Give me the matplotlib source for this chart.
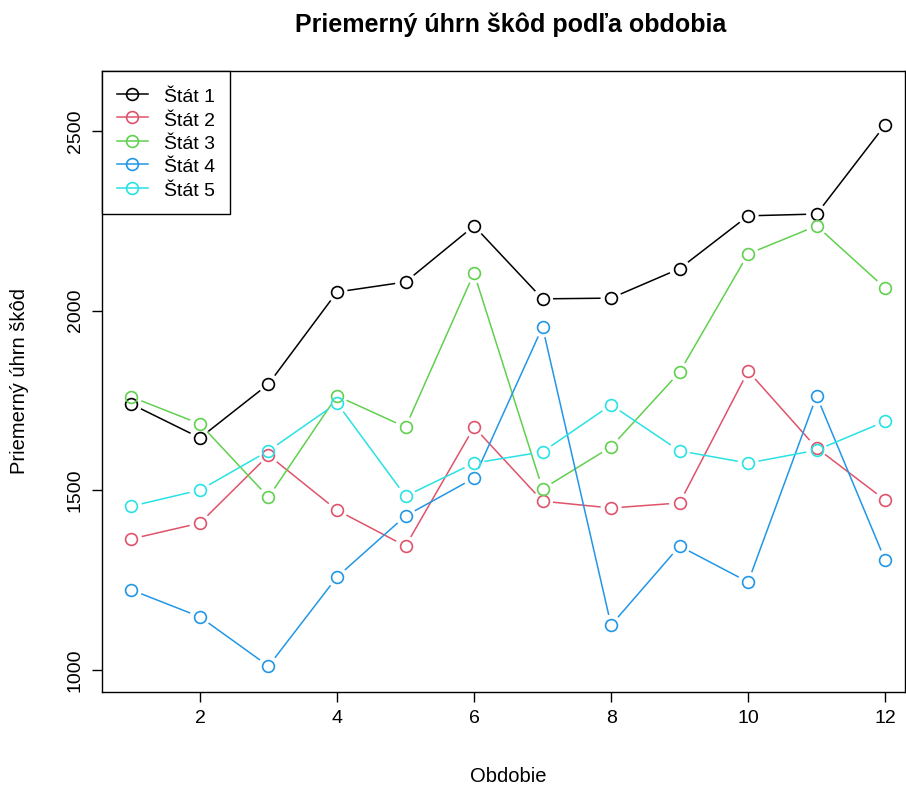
import numpy as np
import matplotlib
matplotlib.use("Agg")
import matplotlib.pyplot as plt
from matplotlib.lines import Line2D

plt.rcParams['font.family'] = ['Liberation Sans', 'DejaVu Sans']

# Data
obdobie = list(range(1, 13))
stat_1 = [1740, 1646, 1796, 2052, 2080, 2236, 2033, 2035, 2117, 2264, 2269, 2517]
stat_2 = [1365, 1409, 1598, 1445, 1345, 1676, 1470, 1451, 1465, 1832, 1618, 1473]
stat_3 = [1760, 1685, 1481, 1763, 1676, 2105, 1504, 1621, 1829, 2158, 2236, 2063]
stat_4 = [1223, 1148, 1011, 1259, 1429, 1534, 1955, 1125, 1345, 1245, 1763, 1306]
stat_5 = [1456, 1501, 1610, 1743, 1484, 1576, 1607, 1738, 1610, 1576, 1612, 1692]
labels = ["Štát 1", "Štát 2", "Štát 3", "Štát 4", "Štát 5"]
colors = ["#000000", "#DF536B", "#61D04F", "#2297E6", "#28E2E5"]
series = [stat_1, stat_2, stat_3, stat_4, stat_5]

fig = plt.figure(figsize=(9.06, 7.87), dpi=100)
ax = fig.add_axes([102 / 906, 1 - 692 / 787, 803 / 906, 621 / 787])
ax.set_xlim(0.57, 12.29)
ax.set_ylim(939, 2667)

GAP = 10.5  # pixels left open around each point, like R type="b"


def gapped_line(ax, x, y, color):
    # shorten each segment in display space so the line stops short of the circles
    trans = ax.transData
    inv = trans.inverted()
    pts = trans.transform(np.column_stack([x, y]))
    for p0, p1 in zip(pts[:-1], pts[1:]):
        d = p1 - p0
        L = np.hypot(*d)
        if L <= 2 * GAP:
            continue
        q0 = p0 + d / L * GAP
        q1 = p1 - d / L * GAP
        seg = inv.transform(np.array([q0, q1]))
        ax.plot(seg[:, 0], seg[:, 1], color=color, lw=1.1, solid_capstyle='butt')


for vals, col in zip(series, colors):
    gapped_line(ax, obdobie, vals, col)
    ax.plot(obdobie, vals, ls='none', marker='o', ms=8.5, mfc='none',
            mec=col, mew=1.2)

ax.set_xticks([2, 4, 6, 8, 10, 12])
ax.set_yticks([1000, 1500, 2000, 2500])
ax.tick_params(labelsize=14, length=7, width=1, direction='out', pad=6)
for lab in ax.get_yticklabels():
    lab.set_rotation(90)
    lab.set_va('center')
for s in ax.spines.values():
    s.set_linewidth(1)

fig.text(511 / 906, 1 - 25 / 787, "Priemerný úhrn škôd podľa obdobia",
         ha='center', va='center', fontsize=18, fontweight='bold')
fig.text(508 / 906, 1 - 776 / 787, "Obdobie", ha='center', va='center', fontsize=14.5)
fig.text(20 / 906, 1 - 381 / 787, "Priemerný úhrn škôd", ha='center', va='center',
         fontsize=14.5, rotation=90)

handles = [Line2D([], [], color=c, lw=1.1, marker='o', ms=8.5, mfc='none', mew=1.2)
           for c in colors]
leg = ax.legend(handles, labels, loc='upper left', fontsize=14, frameon=True,
                fancybox=False, borderaxespad=0, handlelength=1.6,
                handleheight=1.2, handletextpad=0.85, labelspacing=0.15,
                borderpad=0.75)
leg.get_frame().set_edgecolor('black')
leg.get_frame().set_linewidth(1)
leg.get_frame().set_alpha(1)

fig.savefig("out.png", dpi=100)
